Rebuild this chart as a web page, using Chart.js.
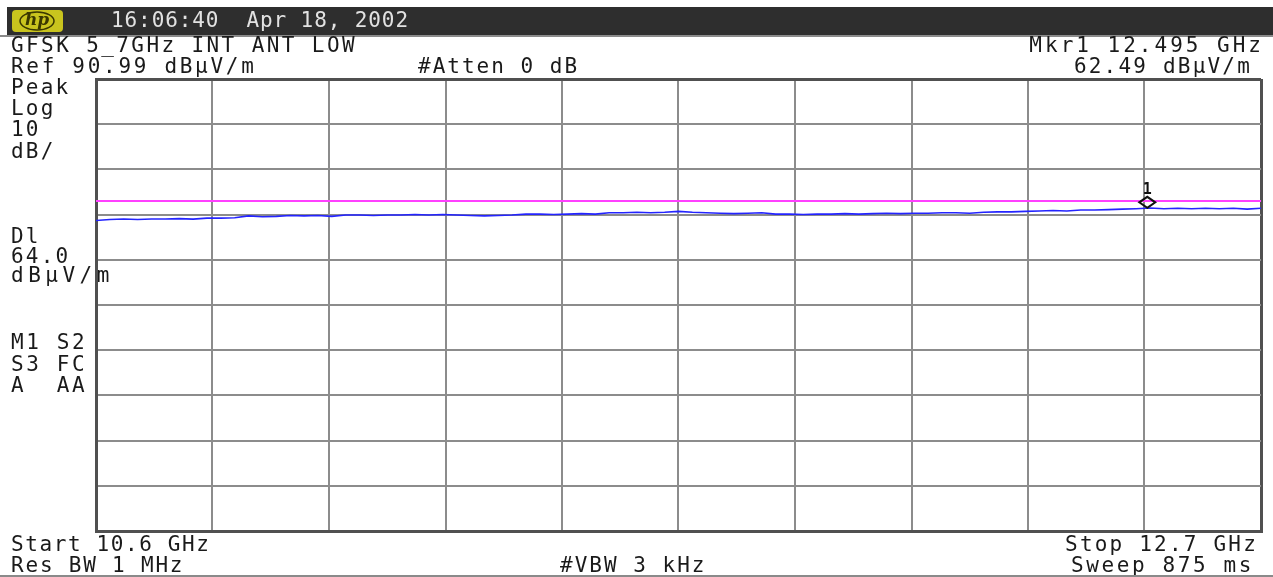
<!DOCTYPE html>
<html>
<head>
<meta charset="utf-8">
<script src="https://cdn.jsdelivr.net/npm/chart.js@4.4.1/dist/chart.umd.min.js"></script>
<style>
  html, body { margin: 0; padding: 0; background: #fff; }
  canvas { display: block; }
</style>
</head>
<body>
<canvas id="sa" width="1273" height="577"></canvas>
<script>
// sweep settings
const startGHz = 10.6;
const stopGHz = 12.7;
const refLevel = 90.99;
const dbPerDiv = 10;
const displayLine = 64.0;
const markerFreq = 12.495;
const markerLevel = 62.49;

// peak trace, dBuV/m (85 points across the sweep)
const trace = [
  59.7, 59.9, 60.0, 59.9, 60.0, 60.0, 60.1, 60.0, 60.2, 60.2,
  60.3, 60.7, 60.5, 60.6, 60.8, 60.7, 60.8, 60.6, 60.9, 60.9,
  60.8, 60.9, 60.9, 61.0, 60.9, 61.0, 60.9, 60.8, 60.7, 60.8,
  60.9, 61.1, 61.1, 61.0, 61.1, 61.2, 61.1, 61.4, 61.4, 61.5,
  61.4, 61.5, 61.7, 61.5, 61.4, 61.3, 61.2, 61.3, 61.4, 61.1,
  61.1, 61.0, 61.1, 61.1, 61.2, 61.1, 61.2, 61.3, 61.2, 61.3,
  61.3, 61.4, 61.4, 61.3, 61.5, 61.6, 61.6, 61.7, 61.8, 61.9,
  61.8, 62.0, 62.0, 62.1, 62.2, 62.3, 62.45, 62.3, 62.4, 62.3,
  62.4, 62.3, 62.4, 62.2, 62.4
];

const freqs = trace.map((v, i) => startGHz + i * (stopGHz - startGHz) / (trace.length - 1));

const MONO = '"DejaVu Sans Mono", "Liberation Mono", monospace';

function txt(ctx, s, x, y, align, sp, color) {
  ctx.letterSpacing = (sp == null ? 2.2 : sp) + 'px';
  ctx.fillStyle = color || '#1a1a1a';
  ctx.textAlign = align || 'left';
  ctx.fillText(s, x, y);
}

const screenText = {
  id: 'screenText',
  beforeDraw(chart) {
    const ctx = chart.ctx;
    ctx.save();
    ctx.fillStyle = '#fff';
    ctx.fillRect(0, 0, chart.width, chart.height);
    // header bar
    ctx.fillStyle = '#2e2e2e';
    ctx.fillRect(7, 7, chart.width - 7, 28);
    ctx.fillStyle = '#8a8a8a';
    ctx.fillRect(0, 35, chart.width, 2);
    // hp logo
    ctx.fillStyle = '#c9c41e';
    ctx.beginPath();
    ctx.roundRect(12, 10, 51, 22, 4);
    ctx.fill();
    ctx.strokeStyle = '#3a3800';
    ctx.lineWidth = 1.5;
    ctx.beginPath();
    ctx.ellipse(37, 21, 17, 9, 0, 0, Math.PI * 2);
    ctx.stroke();
    ctx.font = 'italic bold 17px "DejaVu Serif", serif';
    ctx.textBaseline = 'middle';
    txt(ctx, 'hp', 37, 21, 'center', 0, '#3a3800');

    ctx.font = '21px ' + MONO;
    txt(ctx, '16:06:40  Apr 18, 2002', 111, 22, 'left', 0.9, '#e2e2e2');
    txt(ctx, 'GFSK 5_7GHz INT ANT LOW', 11, 47, 'left', 2.4);
    txt(ctx, 'Ref 90.99 dB\u00b5V/m', 11, 68, 'left', 2.7);
    txt(ctx, '#Atten 0 dB', 418, 68, 'left', 2.0);
    txt(ctx, 'Mkr1 12.495 GHz', 1264, 47, 'right', 3.0);
    txt(ctx, '62.49 dB\u00b5V/m', 1252, 68, 'right');
    txt(ctx, 'Start 10.6 GHz', 11, 546, 'left', 1.6);
    txt(ctx, 'Res BW 1 MHz', 11, 567, 'left', 1.8);
    txt(ctx, '#VBW 3 kHz', 560, 567, 'left', 2.0);
    txt(ctx, 'Stop 12.7 GHz', 1258, 546, 'right');
    txt(ctx, 'Sweep 875 ms', 1254, 567, 'right', 2.6);
    const side = [['Peak', 89], ['Log', 110], ['10', 131], ['dB/', 153],
      ['Dl', 238], ['64.0', 258], ['dB\u00b5V/m', 277, 4.5],
      ['M1 S2', 344, 2.6], ['S3 FC', 366, 2.6], ['A  AA', 387, 2.6]];
    side.forEach(([s, y, sp]) => txt(ctx, s, 11, y, 'left', sp));
    ctx.fillStyle = '#8a8a8a';
    ctx.fillRect(0, 575, chart.width, 2);
    ctx.restore();
  },
  afterDatasetsDraw(chart) {
    const ctx = chart.ctx;
    const px = chart.scales.x.getPixelForValue(markerFreq);
    const py = chart.scales.y.getPixelForValue(markerLevel);
    ctx.save();
    ctx.strokeStyle = '#111';
    ctx.lineWidth = 2;
    ctx.beginPath();
    ctx.moveTo(px, py);
    ctx.lineTo(px + 8, py - 5.5);
    ctx.lineTo(px, py - 11);
    ctx.lineTo(px - 8, py - 5.5);
    ctx.closePath();
    ctx.stroke();
    ctx.font = 'bold 15px ' + MONO;
    ctx.textAlign = 'center';
    ctx.textBaseline = 'middle';
    ctx.fillStyle = '#111';
    ctx.fillText('1', px, py - 18);
    ctx.restore();
  }
};

const edge = (c) => c.index === 0 || c.index === 10;

new Chart(document.getElementById('sa'), {
  type: 'line',
  data: {
    datasets: [
      {
        label: 'Display line',
        data: [{ x: startGHz, y: displayLine }, { x: stopGHz, y: displayLine }],
        borderColor: '#ff40ff',
        borderWidth: 2,
        pointRadius: 0
      },
      {
        label: 'Trace',
        data: trace.map((v, i) => ({ x: freqs[i], y: v })),
        borderColor: '#2424ff',
        borderWidth: 1.6,
        pointRadius: 0,
        tension: 0
      }
    ]
  },
  options: {
    responsive: false,
    animation: false,
    layout: { padding: { left: 96, top: 79, right: 12, bottom: 46 } },
    plugins: { legend: { display: false }, tooltip: { enabled: false } },
    scales: {
      x: {
        type: 'linear',
        min: startGHz,
        max: stopGHz,
        ticks: { display: false, count: 11 },
        grid: {
          drawTicks: false,
          color: (c) => edge(c) ? '#505050' : '#8c8c8c',
          lineWidth: (c) => edge(c) ? 3 : 2
        },
        border: { display: true, color: '#505050', width: 3 }
      },
      y: {
        min: refLevel - 10 * dbPerDiv,
        max: refLevel,
        ticks: { display: false, count: 11 },
        grid: {
          drawTicks: false,
          color: (c) => edge(c) ? '#505050' : '#8c8c8c',
          lineWidth: (c) => edge(c) ? 3 : 2
        },
        border: { display: true, color: '#505050', width: 3 }
      }
    }
  },
  plugins: [screenText]
});
</script>
</body>
</html>
